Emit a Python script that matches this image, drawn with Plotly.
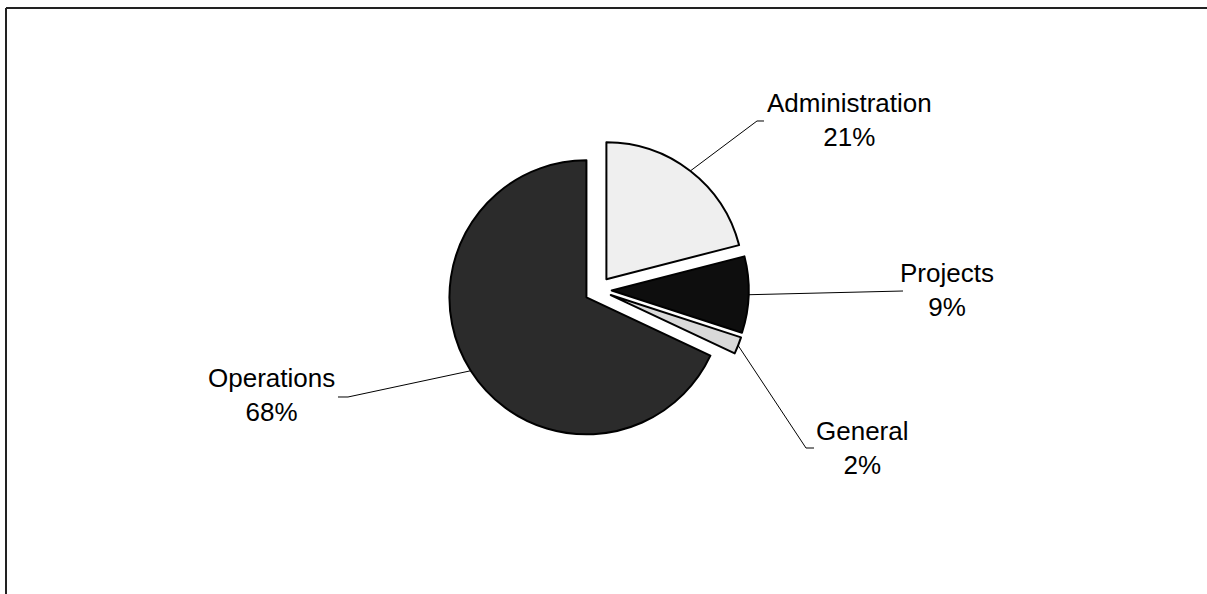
import math
import plotly.graph_objects as go

# ---- data ----
categories = ["Administration", "Projects", "General", "Operations"]
values = [21, 9, 2, 68]
colors = ["#efefef", "#0e0e0e", "#d9d9d9", "#2b2b2b"]

# label placement (pixels in the 1207x594 canvas): text centre, leader outer points
label_pos = {
    "Administration": (850, 120),
    "Projects": (947, 290),
    "General": (862, 448),
    "Operations": (271, 395),
}
leader_outer = {
    "Administration": [(757, 121), (764, 121)],
    "Projects": [(903, 291)],
    "General": [(806, 448), (814, 448)],
    "Operations": [(348, 397), (338, 397)],
}

W, H = 1207, 594
CX, CY = 598, 290          # pie centre (px)
R = 137                    # pie radius (px)
PULL = 0.1

half = R * (1 + PULL)
dom_x = [(CX - half) / W, (CX + half) / W]
dom_y = [(H - CY - half) / H, (H - CY + half) / H]


def px(x, y):
    return x / W, 1 - y / H


fig = go.Figure(go.Pie(
    labels=categories,
    values=values,
    sort=False,
    direction="clockwise",
    rotation=0,
    pull=[PULL] * len(values),
    marker=dict(colors=colors, line=dict(color="black", width=2)),
    textinfo="none",
    hoverinfo="label+percent",
    domain=dict(x=dom_x, y=dom_y),
    showlegend=False,
))

total = sum(values)
shapes = []
annotations = []
cum = 0
for cat, v in zip(categories, values):
    mid = (cum + v / 2) / total * 2 * math.pi
    cum += v
    ex = CX + R * (1 + PULL) * math.sin(mid)
    ey = CY - R * (1 + PULL) * math.cos(mid)
    pts = [(ex, ey)] + leader_outer[cat]
    path = "M " + " L ".join(f"{px(a, b)[0]:.5f},{px(a, b)[1]:.5f}" for a, b in pts)
    shapes.append(dict(type="path", xref="paper", yref="paper", path=path,
                       line=dict(color="black", width=1)))
    lx, ly = px(*label_pos[cat])
    annotations.append(dict(
        x=lx, y=ly, xref="paper", yref="paper", xanchor="center", yanchor="middle",
        text=f"{cat}<br>{v / total * 100:.0f}%", showarrow=False, align="center",
        font=dict(family="Liberation Sans, Arial, sans-serif", size=26, color="black"),
    ))

# chart-area frame (only top and left edges fall inside the picture)
fx, fy = px(6, 8)
shapes.append(dict(type="line", xref="paper", yref="paper",
                   x0=fx, y0=0, x1=fx, y1=fy, line=dict(color="#222222", width=2)))
shapes.append(dict(type="line", xref="paper", yref="paper",
                   x0=fx, y0=fy, x1=1, y1=fy, line=dict(color="#222222", width=2)))

fig.update_layout(
    width=W, height=H,
    margin=dict(l=0, r=0, t=0, b=0),
    paper_bgcolor="white",
    plot_bgcolor="white",
    shapes=shapes,
    annotations=annotations,
)

fig.write_html(
    "out.html",
    config={"displayModeBar": False},
    post_script="document.body.style.margin='0';document.body.style.overflow='hidden';",
)
